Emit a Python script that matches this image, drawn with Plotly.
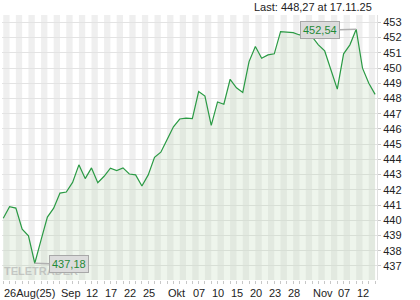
import pandas as pd
import plotly.graph_objects as go

# ---- data -------------------------------------------------------------
dates = [d.strftime("%Y-%m-%d") for d in pd.bdate_range("2025-08-26", "2025-11-17")]
values = [
    440.14, 440.89, 440.80, 439.42, 438.98, 437.18, 438.71, 440.21, 440.80, 441.79,
    441.86, 442.49, 443.64, 442.74, 443.44, 442.47, 442.89, 443.42, 443.26, 443.44,
    443.04, 442.98, 442.25, 442.98, 444.14, 444.47, 445.31, 446.14, 446.65, 446.71,
    446.67, 448.45, 448.16, 446.23, 447.77, 447.62, 449.26, 448.70, 448.40, 450.42,
    451.41, 450.64, 450.86, 450.93, 452.39, 452.34, 452.32, 452.17, 452.28, 452.06,
    451.52, 451.12, 449.88, 448.61, 450.93, 451.52, 452.54, 449.99, 449.00, 448.27,
]
x_label_dates = ["2025-08-26", "2025-09-08", "2025-09-12", "2025-09-17", "2025-09-22",
                 "2025-09-25", "2025-10-01", "2025-10-07", "2025-10-10", "2025-10-15",
                 "2025-10-20", "2025-10-23", "2025-10-28", "2025-11-03", "2025-11-07",
                 "2025-11-12"]
x_label_texts = ["26Aug(25)", "Sep", "12", "17", "22", "25", "Okt", "07", "10", "15",
                 "20", "23", "28", "Nov", "07", "12"]
y_ticks = list(range(437, 454))
last_text = "Last: 448,27 at 17.11.25"
max_text = "452,54"
min_text = "437,18"

# ---- figure -----------------------------------------------------------
idx = list(range(len(dates)))
FONT = "Liberation Sans, Arial, sans-serif"
GREEN = "#1f8a37"

fig = go.Figure()
fig.add_trace(go.Scatter(
    x=idx, y=values, mode="lines",
    line=dict(color="#2a9a44", width=1.2),
    fill="tozeroy", fillcolor="rgba(185,212,175,0.24)",
    hoverinfo="skip",
))

shapes = []
for i in range(0, len(idx) - 1, 2):
    shapes.append(dict(type="rect", xref="x", yref="paper", x0=i, x1=i + 1, y0=0, y1=1,
                       fillcolor="#efefef", line=dict(width=0), layer="below"))

annotations = []
# watermark first so the value boxes are drawn over it
annotations.append(dict(x=0.105, y=0.034, xref="paper", yref="paper", text="<b>TELETRADER</b>",
                        showarrow=False, xanchor="center", yanchor="middle",
                        font=dict(family=FONT, size=11, color="rgba(170,170,170,0.6)")))

for d, t in zip(x_label_dates, x_label_texts):
    annotations.append(dict(x=dates.index(d), y=-0.05, xref="x", yref="paper",
                            text=t, showarrow=False, xanchor="left", yanchor="middle",
                            xshift=-1, font=dict(family=FONT, size=11, color="#222")))

annotations.append(dict(x=0.992, y=1.03, xref="paper", yref="paper", text=last_text,
                        showarrow=False, xanchor="right", yanchor="middle",
                        font=dict(family=FONT, size=11, color="#222")))

imax = values.index(max(values))
imin = values.index(min(values))
annotations.append(dict(x=imax, y=values[imax], xref="x", yref="y", text=max_text,
                        showarrow=True, arrowhead=0, arrowwidth=1.5, arrowcolor="#b0b0b0",
                        ax=-36, ay=1, bgcolor="#dcdcdc", bordercolor="#a8a8a8",
                        borderwidth=1, borderpad=2,
                        font=dict(family=FONT, size=11, color=GREEN)))
annotations.append(dict(x=imin, y=values[imin], xref="x", yref="y", text=min_text,
                        showarrow=True, arrowhead=0, arrowwidth=1.5, arrowcolor="#b0b0b0",
                        ax=34, ay=1, bgcolor="#dcdcdc", bordercolor="#a8a8a8",
                        borderwidth=1, borderpad=2,
                        font=dict(family=FONT, size=11, color=GREEN)))

fig.update_layout(
    width=420, height=300,
    margin=dict(l=2, r=43, t=15, b=20),
    paper_bgcolor="white", plot_bgcolor="white",
    showlegend=False,
    shapes=shapes, annotations=annotations,
    xaxis=dict(range=[-0.2, 59.3], showgrid=False, zeroline=False, showline=False,
               tickmode="array", tickvals=idx, ticktext=[""] * len(idx),
               ticks="outside", ticklen=3, tickcolor="#c8c8c8", fixedrange=True),
    yaxis=dict(range=[436.08, 453.48], side="right", tickmode="array", tickvals=y_ticks,
               ticktext=[str(v) for v in y_ticks], showgrid=True, gridcolor="#e3e3e3",
               gridwidth=1, zeroline=False, showline=True, linecolor="#e0e0e0",
               ticks="outside", ticklen=3, tickcolor="#c8c8c8",
               tickfont=dict(family=FONT, size=11, color="#222")),
)

fig.write_html("out.html")
